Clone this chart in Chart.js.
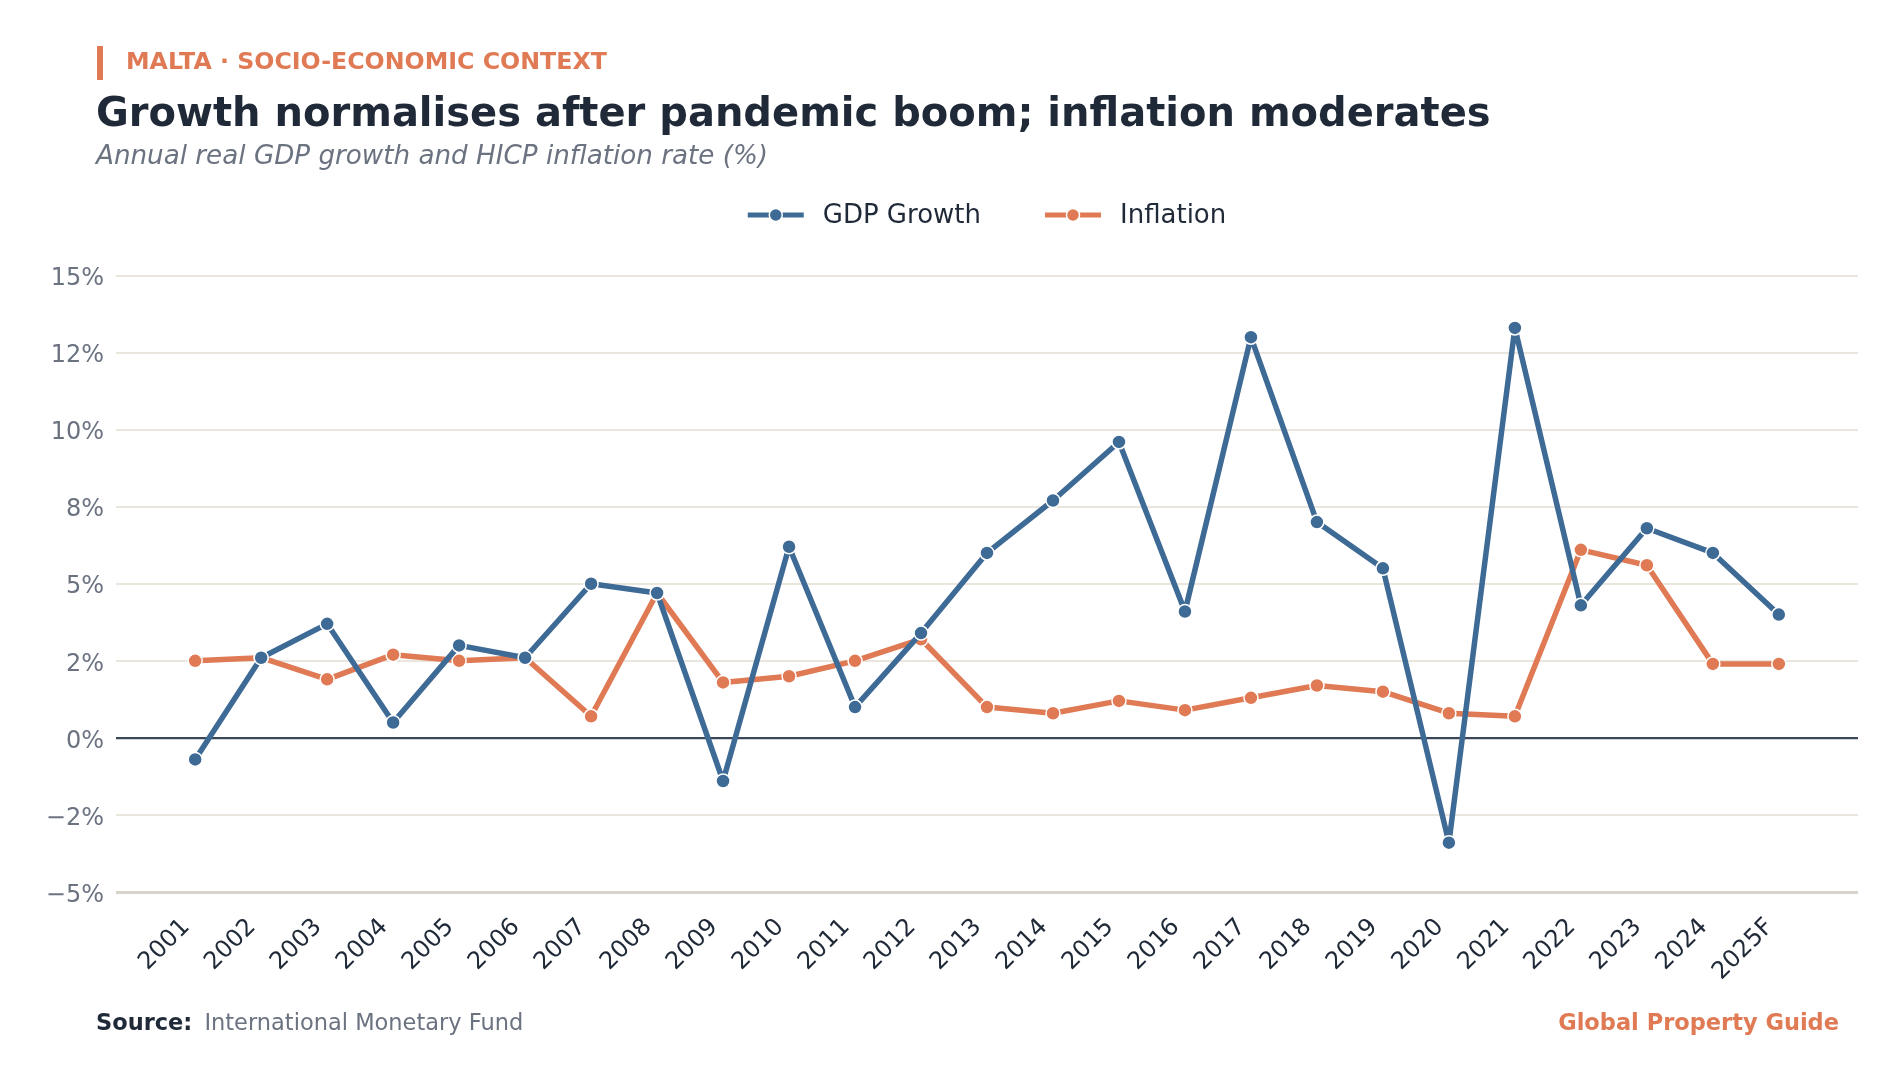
<!DOCTYPE html>
<html>
<head>
<meta charset="utf-8">
<script src="https://cdn.jsdelivr.net/npm/chart.js@4.4.1/dist/chart.umd.min.js"></script>
<style>
  html, body { margin: 0; padding: 0; background: #ffffff; }
  body { width: 1903px; height: 1079px; position: relative; overflow: hidden; font-family: "DejaVu Sans", sans-serif; }
  #wrap { position: absolute; left: 0; top: 0; width: 1903px; height: 1079px; }
  .txt { position: absolute; white-space: nowrap; line-height: 1; }
  #bar { position: absolute; left: 97px; top: 46px; width: 6px; height: 34px; background: #e07a54; }
  #kicker { left: 126px; top: 50px; font-size: 23.7px; font-weight: bold; color: #e07a54; }
  #title { left: 96px; top: 92px; font-size: 40px; font-weight: bold; color: #1f2937; }
  #subtitle { left: 96px; top: 142px; font-size: 26.2px; font-style: italic; color: #6b7280; }
  #source { left: 96px; top: 1011px; font-size: 22.5px; color: #6b7280; }
  #source b { color: #1f2937; margin-right: 12px; }
  #brand { right: 64px; top: 1011px; font-size: 22.5px; font-weight: bold; color: #e07a54; }
</style>
</head>
<body>
<div id="wrap"><canvas id="c" width="1903" height="1079"></canvas></div>
<div id="bar"></div>
<div class="txt" id="kicker">MALTA · SOCIO-ECONOMIC CONTEXT</div>
<div class="txt" id="title">Growth normalises after pandemic boom; inflation moderates</div>
<div class="txt" id="subtitle">Annual real GDP growth and HICP inflation rate (%)</div>
<div class="txt" id="source"><b>Source:</b>International Monetary Fund</div>
<div class="txt" id="brand">Global Property Guide</div>
<script>
const categories = ['2001','2002','2003','2004','2005','2006','2007','2008','2009','2010','2011','2012','2013','2014','2015','2016','2017','2018','2019','2020','2021','2022','2023','2024','2025F'];
const gdpGrowth = [-0.7, 2.6, 3.7, 0.5, 3.0, 2.6, 5.0, 4.7, -1.4, 6.2, 1.0, 3.4, 6.0, 7.7, 9.6, 4.1, 13.0, 7.0, 5.5, -3.4, 13.3, 4.3, 6.8, 6.0, 4.0];
const inflation = [2.5, 2.6, 1.9, 2.7, 2.5, 2.6, 0.7, 4.7, 1.8, 2.0, 2.5, 3.2, 1.0, 0.8, 1.2, 0.9, 1.3, 1.7, 1.5, 0.8, 0.7, 6.1, 5.6, 2.4, 2.4];
const yTickValues = [-5, -2.5, 0, 2.5, 5, 7.5, 10, 12.5, 15];
const yTickLabels = ['\u22125%', '\u22122%', '0%', '2%', '5%', '8%', '10%', '12%', '15%'];

const BLUE = '#3e6a96';
const ORANGE = '#e07a54';

const legendPlugin = {
  id: 'lineDotLegend',
  afterDraw(chart) {
    const ctx = chart.ctx;
    const ca = chart.chartArea;
    const fontSize = 26;
    ctx.save();
    ctx.font = fontSize + 'px "DejaVu Sans"';
    const lineW = 56, gap = 19, itemGap = 64;
    const items = chart.data.datasets.map(ds => ({ label: ds.label, color: ds.borderColor, w: lineW + gap + ctx.measureText(ds.label).width }));
    const total = items.reduce((s, it) => s + it.w, 0) + itemGap * (items.length - 1);
    let x = (ca.left + ca.right) / 2 - total / 2;
    const y = 215;
    items.forEach(it => {
      ctx.strokeStyle = it.color;
      ctx.lineWidth = 5;
      ctx.beginPath();
      ctx.moveTo(x, y);
      ctx.lineTo(x + lineW, y);
      ctx.stroke();
      ctx.fillStyle = it.color;
      ctx.strokeStyle = '#ffffff';
      ctx.lineWidth = 1.5;
      ctx.beginPath();
      ctx.arc(x + lineW / 2, y, 6.5, 0, Math.PI * 2);
      ctx.fill();
      ctx.stroke();
      ctx.fillStyle = '#1f2937';
      ctx.textBaseline = 'middle';
      ctx.textAlign = 'left';
      ctx.fillText(it.label, x + lineW + gap, y + 1);
      x += it.w + itemGap;
    });
    ctx.restore();
  }
};

new Chart(document.getElementById('c'), {
  type: 'line',
  data: {
    datasets: [
      {
        label: 'GDP Growth',
        data: gdpGrowth.map((v, i) => ({ x: i, y: v })),
        borderColor: BLUE,
        backgroundColor: BLUE,
        borderWidth: 5.5,
        borderJoinStyle: 'round',
        pointRadius: 7,
        pointBackgroundColor: BLUE,
        pointBorderColor: '#ffffff',
        pointBorderWidth: 1.5,
        tension: 0
      },
      {
        label: 'Inflation',
        data: inflation.map((v, i) => ({ x: i, y: v })),
        borderColor: ORANGE,
        backgroundColor: ORANGE,
        borderWidth: 5.5,
        borderJoinStyle: 'round',
        pointRadius: 7,
        pointBackgroundColor: ORANGE,
        pointBorderColor: '#ffffff',
        pointBorderWidth: 1.5,
        tension: 0
      }
    ]
  },
  options: {
    responsive: false,
    animation: false,
    events: [],
    layout: { padding: { top: 275.5, left: 0, right: 45, bottom: 87 } },
    plugins: { legend: { display: false }, tooltip: { enabled: false }, title: { display: false } },
    scales: {
      x: {
        type: 'linear',
        min: -1.2,
        max: 25.2,
        afterBuildTicks(scale) { scale.ticks = categories.map((c, i) => ({ value: i })); },
        afterFit(scale) { scale.height = 100; },
        grid: { display: false, drawTicks: false },
        border: { display: false },
        ticks: {
          autoSkip: false,
          minRotation: 45,
          maxRotation: 45,
          padding: 21,
          labelOffset: -9,
          color: '#1f2937',
          font: { family: 'DejaVu Sans', size: 24 },
          callback(v) { return categories[v]; }
        }
      },
      y: {
        min: -5,
        max: 15,
        afterBuildTicks(scale) { scale.ticks = yTickValues.map(v => ({ value: v })); },
        afterFit(scale) { scale.width = 116; },
        border: { display: false },
        grid: {
          drawTicks: false,
          color(ctx) {
            const v = ctx.tick && ctx.tick.value;
            if (v === 0) return '#3b4658';
            if (v === -5) return '#d8d4cc';
            return '#ebe6dd';
          },
          lineWidth(ctx) {
            const v = ctx.tick && ctx.tick.value;
            if (v === 0) return 2.2;
            if (v === -5) return 3;
            return 2;
          }
        },
        ticks: {
          autoSkip: false,
          padding: 12,
          labelOffset: 3.5,
          color: '#6b7280',
          font: { family: 'DejaVu Sans', size: 24 },
          callback(v) { const i = yTickValues.indexOf(v); return i >= 0 ? yTickLabels[i] : ''; }
        }
      }
    }
  },
  plugins: [legendPlugin]
});
</script>
</body>
</html>
